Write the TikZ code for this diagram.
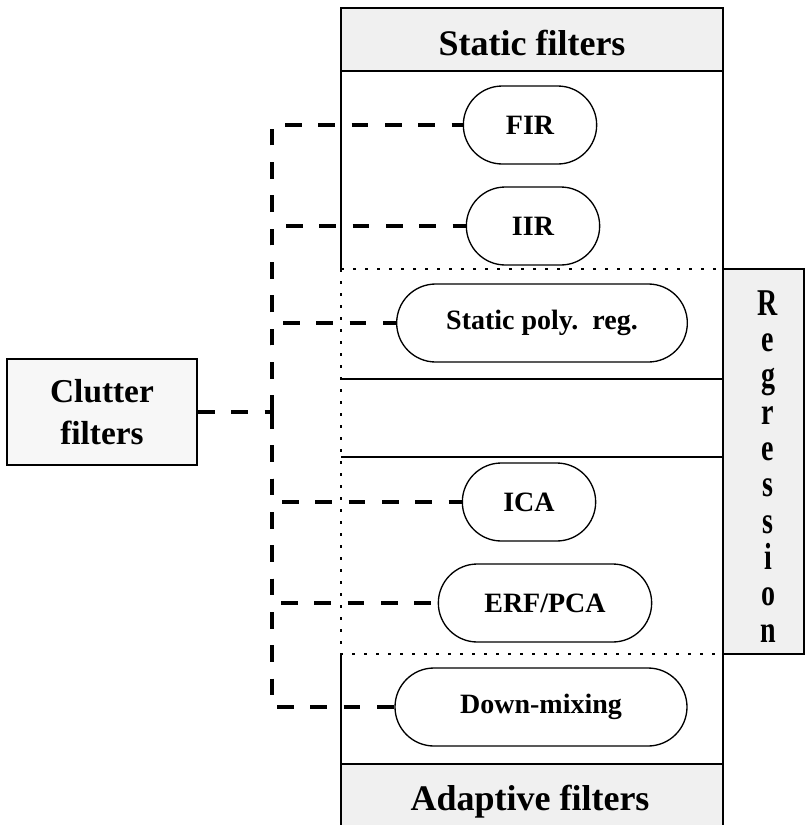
\documentclass[tikz,border=0pt]{standalone}
\usepackage{fontspec}
\setmainfont{Liberation Serif}
\usetikzlibrary{shapes.misc}
\tikzset{
  filt/.style={draw, line width=1pt, rounded rectangle, minimum height=58.5pt, inner sep=0pt, font=\bfseries\fontsize{21}{24}\selectfont},
  hdr/.style={font=\bfseries\fontsize{27}{30}\selectfont},
  regl/.style={font=\bfseries\fontsize{21}{24}\selectfont, inner sep=0pt},
  bus/.style={line width=2.6pt, dash pattern=on 12.5pt off 12.5pt},
  frame/.style={line width=1.3pt},
  dots/.style={line width=2pt, dash pattern=on 2.5pt off 6.5pt}
}
\begin{document}
\begin{tikzpicture}[x=0.75pt,y=-0.75pt]
\useasboundingbox (0,0) rectangle (805,825);

% shaded parts
\filldraw[fill=gray!12, frame] (341,8) rectangle (723,71);
\fill[gray!12] (723,269) rectangle (804,654);
\fill[gray!12] (341,764) rectangle (723,825);

% column
\draw[frame] (723,8) -- (723,825);
\draw[frame] (341,8) -- (341,269);
\draw[frame] (341,654) -- (341,825);
\draw[frame] (341,379) -- (723,379);
\draw[frame] (341,457) -- (723,457);
\draw[frame] (341,764) -- (723,764);
\draw[frame] (723,269) -- (804,269) -- (804,654) -- (723,654);
\draw[dots] (341,269) -- (723,269) (341,269) -- (341,654) -- (723,654);

\node[hdr, anchor=base] (stat) at (532,55) {Static filters};
\node[hdr, anchor=base] (adap) at (530,810) {Adaptive filters};

\node[filt, minimum width=100pt] (fir) at (530,125) {FIR};
\node[filt, minimum width=100pt] (iir) at (533,226) {IIR};
\node[filt, minimum width=218pt] (poly) at (542,323) {Static poly.\ \ reg.};
\node[filt, minimum width=100pt] (ica) at (529,502) {ICA};
\node[filt, minimum width=160pt] (erf) at (545,603) {ERF/PCA};
\node[filt, minimum width=219pt] (down) at (541,707) {Down-mixing};

\foreach \l [count=\i] in {R,e,g,r,e,s,s,i,o,n}
  \node[regl, anchor=base] (reg\i) at (768,279+36.33*\i) {\scalebox{1}[1.35]{\l}};

\node[draw, frame, fill=gray!6, minimum width=142.5pt, minimum height=79pt, align=center,
  font=\bfseries\fontsize{25}{32}\selectfont] (clutter) at (102,412) {Clutter\\filters};

\coordinate (jn) at (272,412);
\draw[bus] (clutter.east) -- (jn);
\foreach \n in {fir,iir,poly,ica,erf,down}
  \draw[bus] (jn) |- (\n.west);

\end{tikzpicture}
\end{document}
